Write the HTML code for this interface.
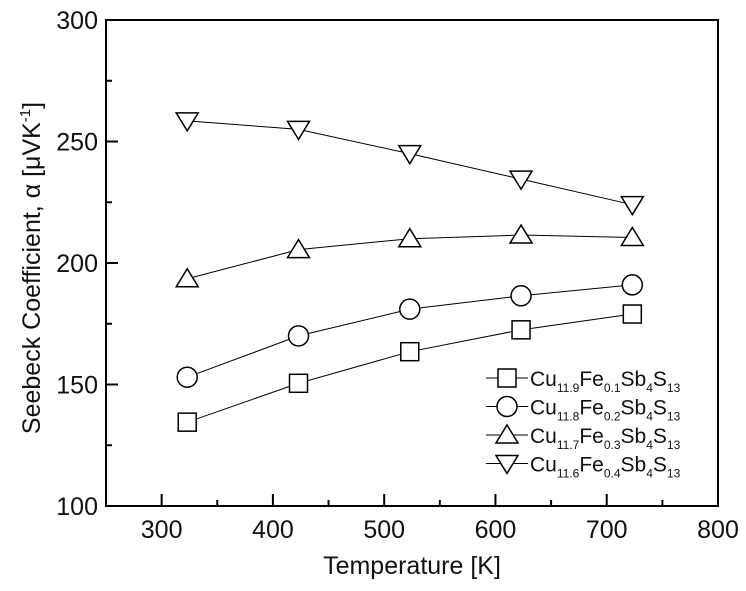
<!DOCTYPE html>
<html><head><meta charset="utf-8"><style>
body{margin:0;background:#fff}
text{font-family:"Liberation Sans",sans-serif;fill:#111}
</style></head><body>
<svg id="c" width="746" height="586"></svg>
<script>
const temps=[323,423,523,623,723];
const s1=[134.5,150.5,163.5,172.5,179];
const s2=[153,170,181,186.5,191];
const s3=[193.5,205.5,210,211.5,210.5];
const s4=[258.5,255,245,234.5,224];
const xTicks=[300,400,500,600,700,800];
const yTicks=[100,150,200,250,300];
const names=[["11.9","0.1"],["11.8","0.2"],["11.7","0.3"],["11.6","0.4"]];
const L=106,R=718,T=20,B=506;
const X=v=>L+(v-250)/(800-250)*(R-L);
const Y=v=>B-(v-100)/(300-100)*(B-T);
const NS="http://www.w3.org/2000/svg";
const svg=document.getElementById('c');
function mk(t,a,p){const e=document.createElementNS(NS,t);for(const k in a)e.setAttribute(k,a[k]);(p||svg).appendChild(e);return e;}
const frame=mk('rect',{x:L,y:T,width:R-L,height:B-T,fill:'none',stroke:'#000','stroke-width':2});


for(let v=250;v<=800;v+=50){const maj=v%100==0;mk('line',{x1:X(v),x2:X(v),y1:B,y2:B-(maj?12:6),stroke:'#000','stroke-width':2});}
for(let v=100;v<=300;v+=25){const maj=v%50==0;mk('line',{x1:L,x2:L+(maj?12:6),y1:Y(v),y2:Y(v),stroke:'#000','stroke-width':2});}
xTicks.forEach(v=>{const t=mk('text',{x:X(v),y:B+32,'text-anchor':'middle','font-size':25});t.textContent=v;

});
yTicks.forEach(v=>{const t=mk('text',{x:L-8,y:Y(v)+9,'text-anchor':'end','font-size':25});t.textContent=v;

});
const xt=mk('text',{x:(L+R)/2,y:574,'text-anchor':'middle','font-size':25});xt.textContent='Temperature [K]';


const yt=mk('text',{transform:`translate(40,${(T+B)/2+5}) rotate(-90)`,'text-anchor':'middle','font-size':25});
yt.innerHTML='Seebeck Coefficient, α [μVK<tspan dy="-10" font-size="15">-1</tspan><tspan dy="10">]</tspan>';


function marker(kind,x,y,g){const s=10;const st={fill:'#fff',stroke:'#000','stroke-width':1.5};
 if(kind==0)return mk('rect',Object.assign({x:x-s+1,y:y-s+1,width:2*s-2,height:2*s-2},st),g);
 if(kind==1)return mk('circle',Object.assign({cx:x,cy:y,r:s},st),g);
 if(kind==2)return mk('polygon',Object.assign({points:`${x},${y-s} ${x+s+1},${y+s-2} ${x-s-1},${y+s-2}`},st),g);
 return mk('polygon',Object.assign({points:`${x},${y+s} ${x+s+1},${y-s+2} ${x-s-1},${y-s+2}`},st),g);}
[s1,s2,s3,s4].forEach((s,k)=>{const g=mk('g',{});
 
 
 mk('polyline',{points:temps.map((t,i)=>X(t)+','+Y(s[i])).join(' '),fill:'none',stroke:'#000','stroke-width':1},g);
 temps.forEach((t,i)=>{const m=marker(k,X(t),Y(s[i]),g);
  
  });
 const ly=378+k*28.5, lg=mk('g',{});
 
 
 mk('line',{x1:486,x2:528,y1:ly,y2:ly,stroke:'#000','stroke-width':1},lg);
 marker(k,507,ly,lg);
 const tx=mk('text',{x:530,y:ly+8,'font-size':21},lg);
 tx.innerHTML=`Cu<tspan dy="6" font-size="12">${names[k][0]}</tspan><tspan dy="-6">Fe</tspan><tspan dy="6" font-size="12">${names[k][1]}</tspan><tspan dy="-6">Sb</tspan><tspan dy="6" font-size="12">4</tspan><tspan dy="-6">S</tspan><tspan dy="6" font-size="12">13</tspan>`;
});
</script>
</body></html>
